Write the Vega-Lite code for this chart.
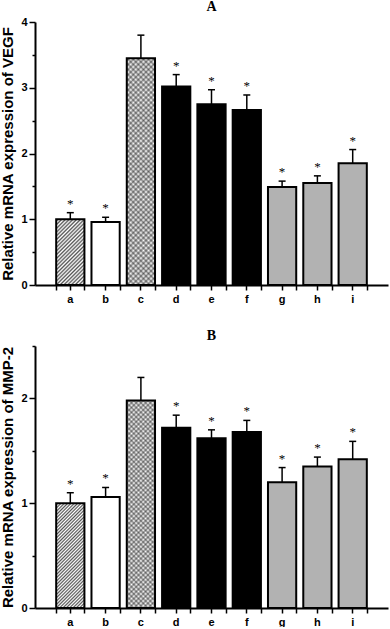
{
"$schema":"https://vega.github.io/schema/vega-lite/v6.json",
"background":"white",
"padding":{"left":0,"top":0,"right":2,"bottom":0},
"spacing":25,
"config":{"view":{"stroke":null}},
"datasets":{
"vegf":[{"g":"a","v":1.0,"e":1.10,"s":"*"},{"g":"b","v":0.96,"e":1.03,"s":"*"},{"g":"c","v":3.45,"e":3.80,"s":""},{"g":"d","v":3.02,"e":3.20,"s":"*"},{"g":"e","v":2.75,"e":2.97,"s":"*"},{"g":"f","v":2.66,"e":2.89,"s":"*"},{"g":"g","v":1.49,"e":1.58,"s":"*"},{"g":"h","v":1.55,"e":1.66,"s":"*"},{"g":"i","v":1.85,"e":2.06,"s":"*"}],
"mmp":[{"g":"a","v":1.0,"e":1.10,"s":"*"},{"g":"b","v":1.06,"e":1.15,"s":"*"},{"g":"c","v":1.98,"e":2.20,"s":""},{"g":"d","v":1.72,"e":1.84,"s":"*"},{"g":"e","v":1.62,"e":1.70,"s":"*"},{"g":"f","v":1.68,"e":1.79,"s":"*"},{"g":"g","v":1.20,"e":1.34,"s":"*"},{"g":"h","v":1.35,"e":1.44,"s":"*"},{"g":"i","v":1.42,"e":1.59,"s":"*"}]
},
"vconcat":[
{
"title":{"text":"A","font":"Liberation Serif","fontSize":14,"fontWeight":"bold","color":"#000","anchor":"middle","offset":2},
"width":353,"height":263,
"data":{"name":"vegf"},
"resolve":{"axis":{"x":"independent","y":"independent"}},
"layer":[
{"mark":{"type":"bar","strokeWidth":0},
"encoding":{
"x":{"field":"g","type":"nominal","scale":{"type":"band","paddingInner":0.2,"paddingOuter":0.6},"axis":{"title":null,"labelAngle":0,"labelFont":"Liberation Sans","labelFontWeight":"bold","labelFontSize":11,"labelColor":"#000","labelPadding":3,"tickSize":5,"tickWidth":1.5,"tickColor":"#000","domainColor":"#000","domainWidth":2,"grid":false}},
"y":{"field":"v","type":"quantitative","scale":{"domain":[0,4],"nice":false},"axis":{"orient":"left","title":"Relative mRNA expression of VEGF","titleFont":"Liberation Sans","titleFontWeight":"bold","titleFontSize":15,"titleColor":"#000","titlePadding":5,"values":[0,1,2,3,4],"tickSize":6,"labelFont":"Liberation Sans","labelFontWeight":"bold","labelFontSize":11,"labelColor":"#000","labelPadding":2,"tickWidth":1.5,"tickColor":"#000","domainColor":"#000","domainWidth":2,"grid":false}},
"color":{"field":"g","type":"nominal","scale":{"domain":["a","b","c","d","e","f","g","h","i"],"range":["#fff","#fff","#fff","#000","#000","#000","#b2b2b2","#b2b2b2","#b2b2b2"]},"legend":null}
}},
{"transform":[{"filter":"datum.g === 'a'"}],
"mark":{"type":"bar","strokeWidth":0,"fill":{"gradient":"linear","x1":0,"y1":0,"x2":0.518,"y2":1.207,"stops":[{"offset":0,"color":"#fff"},{"offset":0.02,"color":"#555"},{"offset":0.04,"color":"#fff"},{"offset":0.06,"color":"#555"},{"offset":0.08,"color":"#fff"},{"offset":0.1,"color":"#555"},{"offset":0.12,"color":"#fff"},{"offset":0.14,"color":"#555"},{"offset":0.16,"color":"#fff"},{"offset":0.18,"color":"#555"},{"offset":0.2,"color":"#fff"},{"offset":0.22,"color":"#555"},{"offset":0.24,"color":"#fff"},{"offset":0.26,"color":"#555"},{"offset":0.28,"color":"#fff"},{"offset":0.3,"color":"#555"},{"offset":0.32,"color":"#fff"},{"offset":0.34,"color":"#555"},{"offset":0.36,"color":"#fff"},{"offset":0.38,"color":"#555"},{"offset":0.4,"color":"#fff"},{"offset":0.42,"color":"#555"},{"offset":0.44,"color":"#fff"},{"offset":0.46,"color":"#555"},{"offset":0.48,"color":"#fff"},{"offset":0.5,"color":"#555"},{"offset":0.52,"color":"#fff"},{"offset":0.54,"color":"#555"},{"offset":0.56,"color":"#fff"},{"offset":0.58,"color":"#555"},{"offset":0.6,"color":"#fff"},{"offset":0.62,"color":"#555"},{"offset":0.64,"color":"#fff"},{"offset":0.66,"color":"#555"},{"offset":0.68,"color":"#fff"},{"offset":0.7,"color":"#555"},{"offset":0.72,"color":"#fff"},{"offset":0.74,"color":"#555"},{"offset":0.76,"color":"#fff"},{"offset":0.78,"color":"#555"},{"offset":0.8,"color":"#fff"},{"offset":0.82,"color":"#555"},{"offset":0.84,"color":"#fff"},{"offset":0.86,"color":"#555"},{"offset":0.88,"color":"#fff"},{"offset":0.9,"color":"#555"},{"offset":0.92,"color":"#fff"},{"offset":0.94,"color":"#555"},{"offset":0.96,"color":"#fff"},{"offset":0.98,"color":"#555"},{"offset":1,"color":"#fff"}]}},
"encoding":{"x":{"field":"g","type":"nominal","axis":null},"y":{"field":"v","type":"quantitative","axis":null}}},
{"transform":[{"filter":"datum.g === 'c'"}],
"mark":{"type":"bar","strokeWidth":0,"fill":{"gradient":"linear","x1":1,"y1":0,"x2":0.862,"y2":1.107,"stops":[{"offset":0,"color":"transparent"},{"offset":0.01,"color":"rgba(0,0,0,0.4)"},{"offset":0.02,"color":"transparent"},{"offset":0.03,"color":"rgba(0,0,0,0.4)"},{"offset":0.04,"color":"transparent"},{"offset":0.05,"color":"rgba(0,0,0,0.4)"},{"offset":0.06,"color":"transparent"},{"offset":0.07,"color":"rgba(0,0,0,0.4)"},{"offset":0.08,"color":"transparent"},{"offset":0.09,"color":"rgba(0,0,0,0.4)"},{"offset":0.1,"color":"transparent"},{"offset":0.11,"color":"rgba(0,0,0,0.4)"},{"offset":0.12,"color":"transparent"},{"offset":0.13,"color":"rgba(0,0,0,0.4)"},{"offset":0.14,"color":"transparent"},{"offset":0.15,"color":"rgba(0,0,0,0.4)"},{"offset":0.16,"color":"transparent"},{"offset":0.17,"color":"rgba(0,0,0,0.4)"},{"offset":0.18,"color":"transparent"},{"offset":0.19,"color":"rgba(0,0,0,0.4)"},{"offset":0.2,"color":"transparent"},{"offset":0.21,"color":"rgba(0,0,0,0.4)"},{"offset":0.22,"color":"transparent"},{"offset":0.23,"color":"rgba(0,0,0,0.4)"},{"offset":0.24,"color":"transparent"},{"offset":0.25,"color":"rgba(0,0,0,0.4)"},{"offset":0.26,"color":"transparent"},{"offset":0.27,"color":"rgba(0,0,0,0.4)"},{"offset":0.28,"color":"transparent"},{"offset":0.29,"color":"rgba(0,0,0,0.4)"},{"offset":0.3,"color":"transparent"},{"offset":0.31,"color":"rgba(0,0,0,0.4)"},{"offset":0.32,"color":"transparent"},{"offset":0.33,"color":"rgba(0,0,0,0.4)"},{"offset":0.34,"color":"transparent"},{"offset":0.35,"color":"rgba(0,0,0,0.4)"},{"offset":0.36,"color":"transparent"},{"offset":0.37,"color":"rgba(0,0,0,0.4)"},{"offset":0.38,"color":"transparent"},{"offset":0.39,"color":"rgba(0,0,0,0.4)"},{"offset":0.4,"color":"transparent"},{"offset":0.41,"color":"rgba(0,0,0,0.4)"},{"offset":0.42,"color":"transparent"},{"offset":0.43,"color":"rgba(0,0,0,0.4)"},{"offset":0.44,"color":"transparent"},{"offset":0.45,"color":"rgba(0,0,0,0.4)"},{"offset":0.46,"color":"transparent"},{"offset":0.47,"color":"rgba(0,0,0,0.4)"},{"offset":0.48,"color":"transparent"},{"offset":0.49,"color":"rgba(0,0,0,0.4)"},{"offset":0.5,"color":"transparent"},{"offset":0.51,"color":"rgba(0,0,0,0.4)"},{"offset":0.52,"color":"transparent"},{"offset":0.53,"color":"rgba(0,0,0,0.4)"},{"offset":0.54,"color":"transparent"},{"offset":0.55,"color":"rgba(0,0,0,0.4)"},{"offset":0.56,"color":"transparent"},{"offset":0.57,"color":"rgba(0,0,0,0.4)"},{"offset":0.58,"color":"transparent"},{"offset":0.59,"color":"rgba(0,0,0,0.4)"},{"offset":0.6,"color":"transparent"},{"offset":0.61,"color":"rgba(0,0,0,0.4)"},{"offset":0.62,"color":"transparent"},{"offset":0.63,"color":"rgba(0,0,0,0.4)"},{"offset":0.64,"color":"transparent"},{"offset":0.65,"color":"rgba(0,0,0,0.4)"},{"offset":0.66,"color":"transparent"},{"offset":0.67,"color":"rgba(0,0,0,0.4)"},{"offset":0.68,"color":"transparent"},{"offset":0.69,"color":"rgba(0,0,0,0.4)"},{"offset":0.7,"color":"transparent"},{"offset":0.71,"color":"rgba(0,0,0,0.4)"},{"offset":0.72,"color":"transparent"},{"offset":0.73,"color":"rgba(0,0,0,0.4)"},{"offset":0.74,"color":"transparent"},{"offset":0.75,"color":"rgba(0,0,0,0.4)"},{"offset":0.76,"color":"transparent"},{"offset":0.77,"color":"rgba(0,0,0,0.4)"},{"offset":0.78,"color":"transparent"},{"offset":0.79,"color":"rgba(0,0,0,0.4)"},{"offset":0.8,"color":"transparent"},{"offset":0.81,"color":"rgba(0,0,0,0.4)"},{"offset":0.82,"color":"transparent"},{"offset":0.83,"color":"rgba(0,0,0,0.4)"},{"offset":0.84,"color":"transparent"},{"offset":0.85,"color":"rgba(0,0,0,0.4)"},{"offset":0.86,"color":"transparent"},{"offset":0.87,"color":"rgba(0,0,0,0.4)"},{"offset":0.88,"color":"transparent"},{"offset":0.89,"color":"rgba(0,0,0,0.4)"},{"offset":0.9,"color":"transparent"},{"offset":0.91,"color":"rgba(0,0,0,0.4)"},{"offset":0.92,"color":"transparent"},{"offset":0.93,"color":"rgba(0,0,0,0.4)"},{"offset":0.94,"color":"transparent"},{"offset":0.95,"color":"rgba(0,0,0,0.4)"},{"offset":0.96,"color":"transparent"},{"offset":0.97,"color":"rgba(0,0,0,0.4)"},{"offset":0.98,"color":"transparent"},{"offset":0.99,"color":"rgba(0,0,0,0.4)"},{"offset":1,"color":"transparent"}]}},
"encoding":{"x":{"field":"g","type":"nominal","axis":null},"y":{"field":"v","type":"quantitative","axis":null}}},
{"transform":[{"filter":"datum.g === 'c'"}],
"mark":{"type":"bar","strokeWidth":0,"fill":{"gradient":"linear","x1":0,"y1":0,"x2":0.138,"y2":1.107,"stops":[{"offset":0,"color":"transparent"},{"offset":0.01,"color":"rgba(0,0,0,0.4)"},{"offset":0.02,"color":"transparent"},{"offset":0.03,"color":"rgba(0,0,0,0.4)"},{"offset":0.04,"color":"transparent"},{"offset":0.05,"color":"rgba(0,0,0,0.4)"},{"offset":0.06,"color":"transparent"},{"offset":0.07,"color":"rgba(0,0,0,0.4)"},{"offset":0.08,"color":"transparent"},{"offset":0.09,"color":"rgba(0,0,0,0.4)"},{"offset":0.1,"color":"transparent"},{"offset":0.11,"color":"rgba(0,0,0,0.4)"},{"offset":0.12,"color":"transparent"},{"offset":0.13,"color":"rgba(0,0,0,0.4)"},{"offset":0.14,"color":"transparent"},{"offset":0.15,"color":"rgba(0,0,0,0.4)"},{"offset":0.16,"color":"transparent"},{"offset":0.17,"color":"rgba(0,0,0,0.4)"},{"offset":0.18,"color":"transparent"},{"offset":0.19,"color":"rgba(0,0,0,0.4)"},{"offset":0.2,"color":"transparent"},{"offset":0.21,"color":"rgba(0,0,0,0.4)"},{"offset":0.22,"color":"transparent"},{"offset":0.23,"color":"rgba(0,0,0,0.4)"},{"offset":0.24,"color":"transparent"},{"offset":0.25,"color":"rgba(0,0,0,0.4)"},{"offset":0.26,"color":"transparent"},{"offset":0.27,"color":"rgba(0,0,0,0.4)"},{"offset":0.28,"color":"transparent"},{"offset":0.29,"color":"rgba(0,0,0,0.4)"},{"offset":0.3,"color":"transparent"},{"offset":0.31,"color":"rgba(0,0,0,0.4)"},{"offset":0.32,"color":"transparent"},{"offset":0.33,"color":"rgba(0,0,0,0.4)"},{"offset":0.34,"color":"transparent"},{"offset":0.35,"color":"rgba(0,0,0,0.4)"},{"offset":0.36,"color":"transparent"},{"offset":0.37,"color":"rgba(0,0,0,0.4)"},{"offset":0.38,"color":"transparent"},{"offset":0.39,"color":"rgba(0,0,0,0.4)"},{"offset":0.4,"color":"transparent"},{"offset":0.41,"color":"rgba(0,0,0,0.4)"},{"offset":0.42,"color":"transparent"},{"offset":0.43,"color":"rgba(0,0,0,0.4)"},{"offset":0.44,"color":"transparent"},{"offset":0.45,"color":"rgba(0,0,0,0.4)"},{"offset":0.46,"color":"transparent"},{"offset":0.47,"color":"rgba(0,0,0,0.4)"},{"offset":0.48,"color":"transparent"},{"offset":0.49,"color":"rgba(0,0,0,0.4)"},{"offset":0.5,"color":"transparent"},{"offset":0.51,"color":"rgba(0,0,0,0.4)"},{"offset":0.52,"color":"transparent"},{"offset":0.53,"color":"rgba(0,0,0,0.4)"},{"offset":0.54,"color":"transparent"},{"offset":0.55,"color":"rgba(0,0,0,0.4)"},{"offset":0.56,"color":"transparent"},{"offset":0.57,"color":"rgba(0,0,0,0.4)"},{"offset":0.58,"color":"transparent"},{"offset":0.59,"color":"rgba(0,0,0,0.4)"},{"offset":0.6,"color":"transparent"},{"offset":0.61,"color":"rgba(0,0,0,0.4)"},{"offset":0.62,"color":"transparent"},{"offset":0.63,"color":"rgba(0,0,0,0.4)"},{"offset":0.64,"color":"transparent"},{"offset":0.65,"color":"rgba(0,0,0,0.4)"},{"offset":0.66,"color":"transparent"},{"offset":0.67,"color":"rgba(0,0,0,0.4)"},{"offset":0.68,"color":"transparent"},{"offset":0.69,"color":"rgba(0,0,0,0.4)"},{"offset":0.7,"color":"transparent"},{"offset":0.71,"color":"rgba(0,0,0,0.4)"},{"offset":0.72,"color":"transparent"},{"offset":0.73,"color":"rgba(0,0,0,0.4)"},{"offset":0.74,"color":"transparent"},{"offset":0.75,"color":"rgba(0,0,0,0.4)"},{"offset":0.76,"color":"transparent"},{"offset":0.77,"color":"rgba(0,0,0,0.4)"},{"offset":0.78,"color":"transparent"},{"offset":0.79,"color":"rgba(0,0,0,0.4)"},{"offset":0.8,"color":"transparent"},{"offset":0.81,"color":"rgba(0,0,0,0.4)"},{"offset":0.82,"color":"transparent"},{"offset":0.83,"color":"rgba(0,0,0,0.4)"},{"offset":0.84,"color":"transparent"},{"offset":0.85,"color":"rgba(0,0,0,0.4)"},{"offset":0.86,"color":"transparent"},{"offset":0.87,"color":"rgba(0,0,0,0.4)"},{"offset":0.88,"color":"transparent"},{"offset":0.89,"color":"rgba(0,0,0,0.4)"},{"offset":0.9,"color":"transparent"},{"offset":0.91,"color":"rgba(0,0,0,0.4)"},{"offset":0.92,"color":"transparent"},{"offset":0.93,"color":"rgba(0,0,0,0.4)"},{"offset":0.94,"color":"transparent"},{"offset":0.95,"color":"rgba(0,0,0,0.4)"},{"offset":0.96,"color":"transparent"},{"offset":0.97,"color":"rgba(0,0,0,0.4)"},{"offset":0.98,"color":"transparent"},{"offset":0.99,"color":"rgba(0,0,0,0.4)"},{"offset":1,"color":"transparent"}]}},
"encoding":{"x":{"field":"g","type":"nominal","axis":null},"y":{"field":"v","type":"quantitative","axis":null}}},
{"mark":{"type":"bar","fillOpacity":0,"stroke":"#000","strokeWidth":2},
"encoding":{"x":{"field":"g","type":"nominal","axis":{"title":null,"orient":"bottom","tickBand":"extent","labels":false,"domain":false,"tickSize":5,"tickWidth":1.5,"tickColor":"#000","grid":false}},"y":{"field":"v","type":"quantitative","axis":{"orient":"left","title":null,"values":[0.5,1.5,2.5,3.5],"labels":false,"domain":false,"tickSize":3,"tickWidth":1.5,"tickColor":"#000","grid":false}}}},
{"mark":{"type":"rule","strokeWidth":1.5,"color":"#000"},
"encoding":{"x":{"field":"g","type":"nominal","axis":null},"y":{"field":"v","type":"quantitative","axis":null},"y2":{"field":"e"}}},
{"mark":{"type":"tick","thickness":1.5,"size":7,"color":"#000","opacity":1},
"encoding":{"x":{"field":"g","type":"nominal","axis":null},"y":{"field":"e","type":"quantitative","axis":null}}},
{"mark":{"type":"text","font":"Liberation Serif","fontSize":13,"dy":-5,"baseline":"alphabetic","color":"#000"},
"encoding":{"x":{"field":"g","type":"nominal","axis":null},"y":{"field":"e","type":"quantitative","axis":null},"text":{"field":"s"}}}
]
},
{
"title":{"text":"B","font":"Liberation Serif","fontSize":14,"fontWeight":"bold","color":"#000","anchor":"middle","offset":2},
"width":353,"height":262,
"data":{"name":"mmp"},
"resolve":{"axis":{"x":"independent","y":"independent"}},
"layer":[
{"mark":{"type":"bar","strokeWidth":0},
"encoding":{
"x":{"field":"g","type":"nominal","scale":{"type":"band","paddingInner":0.2,"paddingOuter":0.6},"axis":{"title":null,"labelAngle":0,"labelFont":"Liberation Sans","labelFontWeight":"bold","labelFontSize":11,"labelColor":"#000","labelPadding":3,"tickSize":5,"tickWidth":1.5,"tickColor":"#000","domainColor":"#000","domainWidth":2,"grid":false}},
"y":{"field":"v","type":"quantitative","scale":{"domain":[0,2.5],"nice":false},"axis":{"orient":"left","title":"Relative mRNA expression of MMP-2","titleFont":"Liberation Sans","titleFontWeight":"bold","titleFontSize":15,"titleColor":"#000","titlePadding":5,"values":[0,1,2],"tickSize":6,"labelFont":"Liberation Sans","labelFontWeight":"bold","labelFontSize":11,"labelColor":"#000","labelPadding":2,"tickWidth":1.5,"tickColor":"#000","domainColor":"#000","domainWidth":2,"grid":false}},
"color":{"field":"g","type":"nominal","scale":{"domain":["a","b","c","d","e","f","g","h","i"],"range":["#fff","#fff","#fff","#000","#000","#000","#b2b2b2","#b2b2b2","#b2b2b2"]},"legend":null}
}},
{"transform":[{"filter":"datum.g === 'a'"}],
"mark":{"type":"bar","strokeWidth":0,"fill":{"gradient":"linear","x1":0,"y1":0,"x2":0.319,"y2":1.184,"stops":[{"offset":0,"color":"#fff"},{"offset":0.0125,"color":"#555"},{"offset":0.025,"color":"#fff"},{"offset":0.0375,"color":"#555"},{"offset":0.05,"color":"#fff"},{"offset":0.0625,"color":"#555"},{"offset":0.075,"color":"#fff"},{"offset":0.0875,"color":"#555"},{"offset":0.1,"color":"#fff"},{"offset":0.1125,"color":"#555"},{"offset":0.125,"color":"#fff"},{"offset":0.1375,"color":"#555"},{"offset":0.15,"color":"#fff"},{"offset":0.1625,"color":"#555"},{"offset":0.175,"color":"#fff"},{"offset":0.1875,"color":"#555"},{"offset":0.2,"color":"#fff"},{"offset":0.2125,"color":"#555"},{"offset":0.225,"color":"#fff"},{"offset":0.2375,"color":"#555"},{"offset":0.25,"color":"#fff"},{"offset":0.2625,"color":"#555"},{"offset":0.275,"color":"#fff"},{"offset":0.2875,"color":"#555"},{"offset":0.3,"color":"#fff"},{"offset":0.3125,"color":"#555"},{"offset":0.325,"color":"#fff"},{"offset":0.3375,"color":"#555"},{"offset":0.35,"color":"#fff"},{"offset":0.3625,"color":"#555"},{"offset":0.375,"color":"#fff"},{"offset":0.3875,"color":"#555"},{"offset":0.4,"color":"#fff"},{"offset":0.4125,"color":"#555"},{"offset":0.425,"color":"#fff"},{"offset":0.4375,"color":"#555"},{"offset":0.45,"color":"#fff"},{"offset":0.4625,"color":"#555"},{"offset":0.475,"color":"#fff"},{"offset":0.4875,"color":"#555"},{"offset":0.5,"color":"#fff"},{"offset":0.5125,"color":"#555"},{"offset":0.525,"color":"#fff"},{"offset":0.5375,"color":"#555"},{"offset":0.55,"color":"#fff"},{"offset":0.5625,"color":"#555"},{"offset":0.575,"color":"#fff"},{"offset":0.5875,"color":"#555"},{"offset":0.6,"color":"#fff"},{"offset":0.6125,"color":"#555"},{"offset":0.625,"color":"#fff"},{"offset":0.6375,"color":"#555"},{"offset":0.65,"color":"#fff"},{"offset":0.6625,"color":"#555"},{"offset":0.675,"color":"#fff"},{"offset":0.6875,"color":"#555"},{"offset":0.7,"color":"#fff"},{"offset":0.7125,"color":"#555"},{"offset":0.725,"color":"#fff"},{"offset":0.7375,"color":"#555"},{"offset":0.75,"color":"#fff"},{"offset":0.7625,"color":"#555"},{"offset":0.775,"color":"#fff"},{"offset":0.7875,"color":"#555"},{"offset":0.8,"color":"#fff"},{"offset":0.8125,"color":"#555"},{"offset":0.825,"color":"#fff"},{"offset":0.8375,"color":"#555"},{"offset":0.85,"color":"#fff"},{"offset":0.8625,"color":"#555"},{"offset":0.875,"color":"#fff"},{"offset":0.8875,"color":"#555"},{"offset":0.9,"color":"#fff"},{"offset":0.9125,"color":"#555"},{"offset":0.925,"color":"#fff"},{"offset":0.9375,"color":"#555"},{"offset":0.95,"color":"#fff"},{"offset":0.9625,"color":"#555"},{"offset":0.975,"color":"#fff"},{"offset":0.9875,"color":"#555"},{"offset":1,"color":"#fff"}]}},
"encoding":{"x":{"field":"g","type":"nominal","axis":null},"y":{"field":"v","type":"quantitative","axis":null}}},
{"transform":[{"filter":"datum.g === 'c'"}],
"mark":{"type":"bar","strokeWidth":0,"fill":{"gradient":"linear","x1":1,"y1":0,"x2":0.848,"y2":1.116,"stops":[{"offset":0,"color":"transparent"},{"offset":0.01,"color":"rgba(0,0,0,0.4)"},{"offset":0.02,"color":"transparent"},{"offset":0.03,"color":"rgba(0,0,0,0.4)"},{"offset":0.04,"color":"transparent"},{"offset":0.05,"color":"rgba(0,0,0,0.4)"},{"offset":0.06,"color":"transparent"},{"offset":0.07,"color":"rgba(0,0,0,0.4)"},{"offset":0.08,"color":"transparent"},{"offset":0.09,"color":"rgba(0,0,0,0.4)"},{"offset":0.1,"color":"transparent"},{"offset":0.11,"color":"rgba(0,0,0,0.4)"},{"offset":0.12,"color":"transparent"},{"offset":0.13,"color":"rgba(0,0,0,0.4)"},{"offset":0.14,"color":"transparent"},{"offset":0.15,"color":"rgba(0,0,0,0.4)"},{"offset":0.16,"color":"transparent"},{"offset":0.17,"color":"rgba(0,0,0,0.4)"},{"offset":0.18,"color":"transparent"},{"offset":0.19,"color":"rgba(0,0,0,0.4)"},{"offset":0.2,"color":"transparent"},{"offset":0.21,"color":"rgba(0,0,0,0.4)"},{"offset":0.22,"color":"transparent"},{"offset":0.23,"color":"rgba(0,0,0,0.4)"},{"offset":0.24,"color":"transparent"},{"offset":0.25,"color":"rgba(0,0,0,0.4)"},{"offset":0.26,"color":"transparent"},{"offset":0.27,"color":"rgba(0,0,0,0.4)"},{"offset":0.28,"color":"transparent"},{"offset":0.29,"color":"rgba(0,0,0,0.4)"},{"offset":0.3,"color":"transparent"},{"offset":0.31,"color":"rgba(0,0,0,0.4)"},{"offset":0.32,"color":"transparent"},{"offset":0.33,"color":"rgba(0,0,0,0.4)"},{"offset":0.34,"color":"transparent"},{"offset":0.35,"color":"rgba(0,0,0,0.4)"},{"offset":0.36,"color":"transparent"},{"offset":0.37,"color":"rgba(0,0,0,0.4)"},{"offset":0.38,"color":"transparent"},{"offset":0.39,"color":"rgba(0,0,0,0.4)"},{"offset":0.4,"color":"transparent"},{"offset":0.41,"color":"rgba(0,0,0,0.4)"},{"offset":0.42,"color":"transparent"},{"offset":0.43,"color":"rgba(0,0,0,0.4)"},{"offset":0.44,"color":"transparent"},{"offset":0.45,"color":"rgba(0,0,0,0.4)"},{"offset":0.46,"color":"transparent"},{"offset":0.47,"color":"rgba(0,0,0,0.4)"},{"offset":0.48,"color":"transparent"},{"offset":0.49,"color":"rgba(0,0,0,0.4)"},{"offset":0.5,"color":"transparent"},{"offset":0.51,"color":"rgba(0,0,0,0.4)"},{"offset":0.52,"color":"transparent"},{"offset":0.53,"color":"rgba(0,0,0,0.4)"},{"offset":0.54,"color":"transparent"},{"offset":0.55,"color":"rgba(0,0,0,0.4)"},{"offset":0.56,"color":"transparent"},{"offset":0.57,"color":"rgba(0,0,0,0.4)"},{"offset":0.58,"color":"transparent"},{"offset":0.59,"color":"rgba(0,0,0,0.4)"},{"offset":0.6,"color":"transparent"},{"offset":0.61,"color":"rgba(0,0,0,0.4)"},{"offset":0.62,"color":"transparent"},{"offset":0.63,"color":"rgba(0,0,0,0.4)"},{"offset":0.64,"color":"transparent"},{"offset":0.65,"color":"rgba(0,0,0,0.4)"},{"offset":0.66,"color":"transparent"},{"offset":0.67,"color":"rgba(0,0,0,0.4)"},{"offset":0.68,"color":"transparent"},{"offset":0.69,"color":"rgba(0,0,0,0.4)"},{"offset":0.7,"color":"transparent"},{"offset":0.71,"color":"rgba(0,0,0,0.4)"},{"offset":0.72,"color":"transparent"},{"offset":0.73,"color":"rgba(0,0,0,0.4)"},{"offset":0.74,"color":"transparent"},{"offset":0.75,"color":"rgba(0,0,0,0.4)"},{"offset":0.76,"color":"transparent"},{"offset":0.77,"color":"rgba(0,0,0,0.4)"},{"offset":0.78,"color":"transparent"},{"offset":0.79,"color":"rgba(0,0,0,0.4)"},{"offset":0.8,"color":"transparent"},{"offset":0.81,"color":"rgba(0,0,0,0.4)"},{"offset":0.82,"color":"transparent"},{"offset":0.83,"color":"rgba(0,0,0,0.4)"},{"offset":0.84,"color":"transparent"},{"offset":0.85,"color":"rgba(0,0,0,0.4)"},{"offset":0.86,"color":"transparent"},{"offset":0.87,"color":"rgba(0,0,0,0.4)"},{"offset":0.88,"color":"transparent"},{"offset":0.89,"color":"rgba(0,0,0,0.4)"},{"offset":0.9,"color":"transparent"},{"offset":0.91,"color":"rgba(0,0,0,0.4)"},{"offset":0.92,"color":"transparent"},{"offset":0.93,"color":"rgba(0,0,0,0.4)"},{"offset":0.94,"color":"transparent"},{"offset":0.95,"color":"rgba(0,0,0,0.4)"},{"offset":0.96,"color":"transparent"},{"offset":0.97,"color":"rgba(0,0,0,0.4)"},{"offset":0.98,"color":"transparent"},{"offset":0.99,"color":"rgba(0,0,0,0.4)"},{"offset":1,"color":"transparent"}]}},
"encoding":{"x":{"field":"g","type":"nominal","axis":null},"y":{"field":"v","type":"quantitative","axis":null}}},
{"transform":[{"filter":"datum.g === 'c'"}],
"mark":{"type":"bar","strokeWidth":0,"fill":{"gradient":"linear","x1":0,"y1":0,"x2":0.152,"y2":1.116,"stops":[{"offset":0,"color":"transparent"},{"offset":0.01,"color":"rgba(0,0,0,0.4)"},{"offset":0.02,"color":"transparent"},{"offset":0.03,"color":"rgba(0,0,0,0.4)"},{"offset":0.04,"color":"transparent"},{"offset":0.05,"color":"rgba(0,0,0,0.4)"},{"offset":0.06,"color":"transparent"},{"offset":0.07,"color":"rgba(0,0,0,0.4)"},{"offset":0.08,"color":"transparent"},{"offset":0.09,"color":"rgba(0,0,0,0.4)"},{"offset":0.1,"color":"transparent"},{"offset":0.11,"color":"rgba(0,0,0,0.4)"},{"offset":0.12,"color":"transparent"},{"offset":0.13,"color":"rgba(0,0,0,0.4)"},{"offset":0.14,"color":"transparent"},{"offset":0.15,"color":"rgba(0,0,0,0.4)"},{"offset":0.16,"color":"transparent"},{"offset":0.17,"color":"rgba(0,0,0,0.4)"},{"offset":0.18,"color":"transparent"},{"offset":0.19,"color":"rgba(0,0,0,0.4)"},{"offset":0.2,"color":"transparent"},{"offset":0.21,"color":"rgba(0,0,0,0.4)"},{"offset":0.22,"color":"transparent"},{"offset":0.23,"color":"rgba(0,0,0,0.4)"},{"offset":0.24,"color":"transparent"},{"offset":0.25,"color":"rgba(0,0,0,0.4)"},{"offset":0.26,"color":"transparent"},{"offset":0.27,"color":"rgba(0,0,0,0.4)"},{"offset":0.28,"color":"transparent"},{"offset":0.29,"color":"rgba(0,0,0,0.4)"},{"offset":0.3,"color":"transparent"},{"offset":0.31,"color":"rgba(0,0,0,0.4)"},{"offset":0.32,"color":"transparent"},{"offset":0.33,"color":"rgba(0,0,0,0.4)"},{"offset":0.34,"color":"transparent"},{"offset":0.35,"color":"rgba(0,0,0,0.4)"},{"offset":0.36,"color":"transparent"},{"offset":0.37,"color":"rgba(0,0,0,0.4)"},{"offset":0.38,"color":"transparent"},{"offset":0.39,"color":"rgba(0,0,0,0.4)"},{"offset":0.4,"color":"transparent"},{"offset":0.41,"color":"rgba(0,0,0,0.4)"},{"offset":0.42,"color":"transparent"},{"offset":0.43,"color":"rgba(0,0,0,0.4)"},{"offset":0.44,"color":"transparent"},{"offset":0.45,"color":"rgba(0,0,0,0.4)"},{"offset":0.46,"color":"transparent"},{"offset":0.47,"color":"rgba(0,0,0,0.4)"},{"offset":0.48,"color":"transparent"},{"offset":0.49,"color":"rgba(0,0,0,0.4)"},{"offset":0.5,"color":"transparent"},{"offset":0.51,"color":"rgba(0,0,0,0.4)"},{"offset":0.52,"color":"transparent"},{"offset":0.53,"color":"rgba(0,0,0,0.4)"},{"offset":0.54,"color":"transparent"},{"offset":0.55,"color":"rgba(0,0,0,0.4)"},{"offset":0.56,"color":"transparent"},{"offset":0.57,"color":"rgba(0,0,0,0.4)"},{"offset":0.58,"color":"transparent"},{"offset":0.59,"color":"rgba(0,0,0,0.4)"},{"offset":0.6,"color":"transparent"},{"offset":0.61,"color":"rgba(0,0,0,0.4)"},{"offset":0.62,"color":"transparent"},{"offset":0.63,"color":"rgba(0,0,0,0.4)"},{"offset":0.64,"color":"transparent"},{"offset":0.65,"color":"rgba(0,0,0,0.4)"},{"offset":0.66,"color":"transparent"},{"offset":0.67,"color":"rgba(0,0,0,0.4)"},{"offset":0.68,"color":"transparent"},{"offset":0.69,"color":"rgba(0,0,0,0.4)"},{"offset":0.7,"color":"transparent"},{"offset":0.71,"color":"rgba(0,0,0,0.4)"},{"offset":0.72,"color":"transparent"},{"offset":0.73,"color":"rgba(0,0,0,0.4)"},{"offset":0.74,"color":"transparent"},{"offset":0.75,"color":"rgba(0,0,0,0.4)"},{"offset":0.76,"color":"transparent"},{"offset":0.77,"color":"rgba(0,0,0,0.4)"},{"offset":0.78,"color":"transparent"},{"offset":0.79,"color":"rgba(0,0,0,0.4)"},{"offset":0.8,"color":"transparent"},{"offset":0.81,"color":"rgba(0,0,0,0.4)"},{"offset":0.82,"color":"transparent"},{"offset":0.83,"color":"rgba(0,0,0,0.4)"},{"offset":0.84,"color":"transparent"},{"offset":0.85,"color":"rgba(0,0,0,0.4)"},{"offset":0.86,"color":"transparent"},{"offset":0.87,"color":"rgba(0,0,0,0.4)"},{"offset":0.88,"color":"transparent"},{"offset":0.89,"color":"rgba(0,0,0,0.4)"},{"offset":0.9,"color":"transparent"},{"offset":0.91,"color":"rgba(0,0,0,0.4)"},{"offset":0.92,"color":"transparent"},{"offset":0.93,"color":"rgba(0,0,0,0.4)"},{"offset":0.94,"color":"transparent"},{"offset":0.95,"color":"rgba(0,0,0,0.4)"},{"offset":0.96,"color":"transparent"},{"offset":0.97,"color":"rgba(0,0,0,0.4)"},{"offset":0.98,"color":"transparent"},{"offset":0.99,"color":"rgba(0,0,0,0.4)"},{"offset":1,"color":"transparent"}]}},
"encoding":{"x":{"field":"g","type":"nominal","axis":null},"y":{"field":"v","type":"quantitative","axis":null}}},
{"mark":{"type":"bar","fillOpacity":0,"stroke":"#000","strokeWidth":2},
"encoding":{"x":{"field":"g","type":"nominal","axis":{"title":null,"orient":"bottom","tickBand":"extent","labels":false,"domain":false,"tickSize":5,"tickWidth":1.5,"tickColor":"#000","grid":false}},"y":{"field":"v","type":"quantitative","axis":{"orient":"left","title":null,"values":[0.5,1.5,2.5],"labels":false,"domain":false,"tickSize":3,"tickWidth":1.5,"tickColor":"#000","grid":false}}}},
{"mark":{"type":"rule","strokeWidth":1.5,"color":"#000"},
"encoding":{"x":{"field":"g","type":"nominal","axis":null},"y":{"field":"v","type":"quantitative","axis":null},"y2":{"field":"e"}}},
{"mark":{"type":"tick","thickness":1.5,"size":7,"color":"#000","opacity":1},
"encoding":{"x":{"field":"g","type":"nominal","axis":null},"y":{"field":"e","type":"quantitative","axis":null}}},
{"mark":{"type":"text","font":"Liberation Serif","fontSize":13,"dy":-5,"baseline":"alphabetic","color":"#000"},
"encoding":{"x":{"field":"g","type":"nominal","axis":null},"y":{"field":"e","type":"quantitative","axis":null},"text":{"field":"s"}}}
]
}
]
}
